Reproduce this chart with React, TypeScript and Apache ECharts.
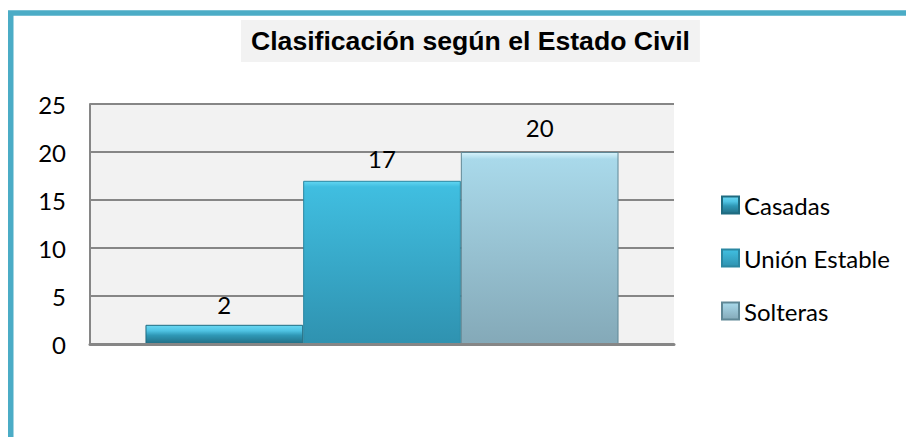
import React, { useEffect, useRef } from "react";
import * as echarts from "echarts";

const titleText = "Clasificación según el Estado Civil";
const categories = [""];
const seriesNames = ["Casadas", "Unión Estable", "Solteras"];
const casadasValues = [2];
const unionValues = [17];
const solterasValues = [20];
const yMin = 0;
const yMax = 25;
const yInterval = 5;

const FONT = "Lato, 'Open Sans', sans-serif";

function grad(stops: [number, string][]) {
  return new echarts.graphic.LinearGradient(
    0,
    0,
    0,
    1,
    stops.map(([offset, color]) => ({ offset, color }))
  );
}

export default function App() {
  const ref = useRef<HTMLDivElement>(null);

  useEffect(() => {
    if (!ref.current) return;
    const chart = echarts.init(ref.current, null, { renderer: "svg" });

    const labelBase = {
      show: true,
      position: "top" as const,
      color: "#000",
      fontFamily: FONT,
      fontSize: 24,
    };

    const option: any = {
      animation: false,
      backgroundColor: "#ffffff",
      title: {
        text: titleText,
        left: 241,
        top: 20,
        padding: [7, 10, 7, 10],
        backgroundColor: "#F2F2F2",
        textStyle: {
          fontFamily: "'Liberation Sans', Arial, sans-serif",
          fontWeight: "bold",
          fontSize: 26.6,
          lineHeight: 28,
          color: "#000",
        },
      },
      graphic: [
        {
          type: "rect",
          silent: true,
          z: -1,
          shape: { x: 10.75, y: 13, width: 1000, height: 1000 },
          style: { fill: "none", stroke: "#4BACC6", lineWidth: 5.5 },
        },
      ],
      legend: {
        orient: "vertical",
        left: 716,
        top: 186,
        itemGap: 25,
        itemWidth: 17,
        itemHeight: 17,
        icon: "rect",
        data: seriesNames,
        textStyle: {
          fontFamily: FONT,
          fontSize: 24,
          lineHeight: 28,
          color: "#000",
        },
      },
      grid: {
        left: 90,
        top: 104,
        width: 584,
        height: 240,
        show: true,
        backgroundColor: "#F2F2F2",
        borderWidth: 0,
      },
      xAxis: {
        type: "category",
        data: categories,
        z: 5,
        axisLabel: { show: false },
        axisTick: { show: false },
        axisLine: { show: true, lineStyle: { color: "#868686", width: 3 } },
      },
      yAxis: {
        type: "value",
        min: yMin,
        max: yMax,
        interval: yInterval,
        axisLine: { show: true, lineStyle: { color: "#868686", width: 2 } },
        axisTick: { show: false },
        splitLine: { show: true, lineStyle: { color: "#868686", width: 2 } },
        axisLabel: {
          color: "#000",
          fontFamily: FONT,
          fontSize: 24,
          margin: 24,
        },
      },
      series: [
        {
          name: seriesNames[0],
          type: "bar",
          data: casadasValues,
          barGap: "0%",
          barCategoryGap: "19%",
          itemStyle: {
            color: grad([
              [0, "#6AD8F3"],
              [0.3, "#4FC3E3"],
              [0.55, "#2F98B6"],
              [1, "#226F86"],
            ]),
            borderColor: "#1F6B80",
            borderWidth: 1,
          },
          label: { ...labelBase, distance: 8 },
        },
        {
          name: seriesNames[1],
          type: "bar",
          data: unionValues,
          barGap: "0%",
          barCategoryGap: "19%",
          itemStyle: {
            color: grad([
              [0, "#62D6F2"],
              [0.035, "#40BEE0"],
              [1, "#2F92B0"],
            ]),
            borderColor: "#2A87A2",
            borderWidth: 1,
          },
          label: { ...labelBase, distance: 10 },
        },
        {
          name: seriesNames[2],
          type: "bar",
          data: solterasValues,
          barGap: "0%",
          barCategoryGap: "19%",
          itemStyle: {
            color: grad([
              [0, "#D8F3FB"],
              [0.035, "#A9D9EA"],
              [1, "#84A9B8"],
            ]),
            borderColor: "#5F8795",
            borderWidth: 1,
          },
          label: { ...labelBase, distance: 13 },
        },
      ],
    };

    chart.setOption(option);
    return () => chart.dispose();
  }, []);

  return (
    <div
      ref={ref}
      style={{
        position: "fixed",
        left: 0,
        top: 0,
        width: 906,
        height: 437,
        background: "#fff",
      }}
    />
  );
}
